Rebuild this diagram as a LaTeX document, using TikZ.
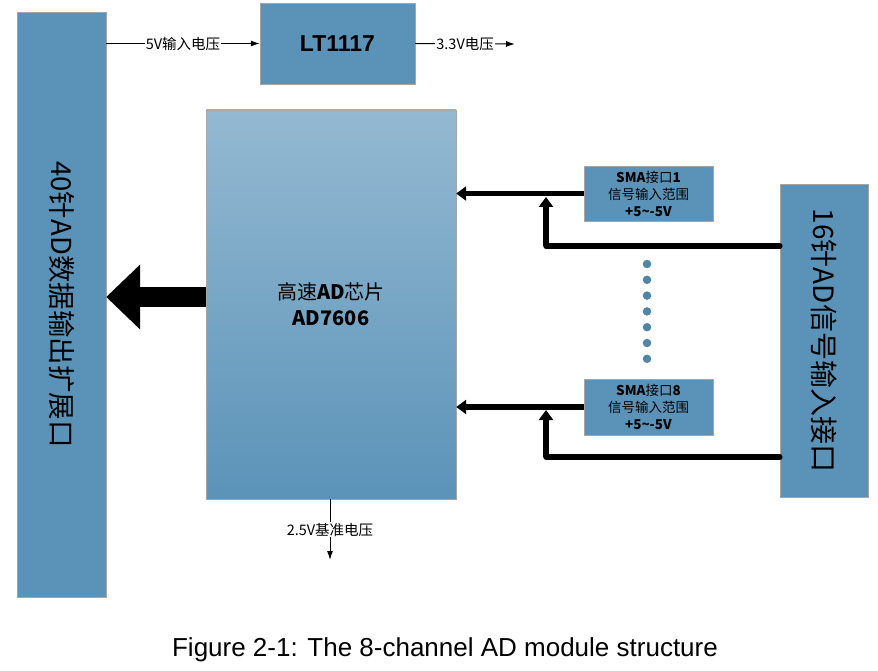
\documentclass[tikz,border=0pt]{standalone}
\usepackage{fontspec}
\setmainfont{Liberation Sans}
\newfontfamily\cjk{Noto Sans CJK SC}
\usetikzlibrary{arrows.meta}
\definecolor{blk}{HTML}{5B93B8}
\definecolor{blktop}{HTML}{94B9D2}
\tikzset{
  blockbox/.style={draw=gray!70, fill=blk},
  chipbox/.style={draw=gray!70, top color=blktop, bottom color=blk},
  thin arrow/.style={-{Latex[length=9pt,width=6pt]}, line width=1pt},
  thick line/.style={line width=5.5pt, line cap=round},
  thick arrow/.style={line width=5.5pt, -{Triangle[length=10pt,width=14pt]}},
  lbl/.style={fill=white, inner sep=1pt, font=\cjk\fontsize{14.5}{17}\selectfont},
  dot/.style={circle, fill=blk!90!black, inner sep=0pt, minimum size=8.5pt}
}
\begin{document}
\begin{tikzpicture}[x=1pt,y=-1pt]
\useasboundingbox (0,0) rectangle (878,671);
% blocks
\node[blockbox, minimum width=89pt, minimum height=585pt] (ext) at (61.5,304.5) {};
\node[rotate=-90, font=\cjk\fontsize{27.5}{30}\selectfont] at (ext.center) {40针AD数据输出扩展口};
\node[blockbox, minimum width=155pt, minimum height=81pt, font=\bfseries\fontsize{23}{26}\selectfont] (lt) at (337.5,43.5) {LT1117};
\node[chipbox, minimum width=250pt, minimum height=389pt, align=center, font=\cjk\fontsize{20}{26}\selectfont] (ad) at (331,304.5) {高速\textbf{AD}芯片\\ \textbf{AD7606}};
\node[blockbox, minimum width=129pt, minimum height=55pt, align=center, font=\cjk\fontsize{13.5}{17}\selectfont] (sma1) at (648.5,193.5) {\textbf{SMA}接口\textbf{1}\\ 信号输入范围\\ \textbf{+5\textasciitilde-5V}};
\node[blockbox, minimum width=129pt, minimum height=56pt, align=center, font=\cjk\fontsize{13.5}{17}\selectfont] (sma8) at (648.5,407) {\textbf{SMA}接口\textbf{8}\\ 信号输入范围\\ \textbf{+5\textasciitilde-5V}};
\node[blockbox, minimum width=88pt, minimum height=313pt] (in) at (824,340.5) {};
\node[rotate=-90, font=\cjk\fontsize{28}{30}\selectfont] at (in.center) {16针AD信号输入接口};
% power lines
\coordinate (o33) at (515,44);
\coordinate (o25) at (330,560);
\draw[thin arrow] (ext.east |- lt.west) -- node[lbl]{5V输入电压} (lt.west);
\draw[thin arrow] (lt.east) -- node[lbl]{3.3V电压} (o33);
\draw[thin arrow] (ad.south -| o25) -- node[lbl, pos=0.5]{2.5V基准电压} (o25);
% data out
\draw[line width=20pt, -{Triangle[length=34pt,width=63pt]}] (ad.west |- 0,297) -- (ext.east |- 0,297);
% signal inputs
\coordinate (j1) at (546,246);
\coordinate (j8) at (546,457);
\draw[thick arrow] (sma1.west) -- (ad.east |- sma1.west);
\draw[thick arrow] (sma8.west) -- (ad.east |- sma8.west);
\draw[thick line] (in.west |- j1) -- (j1);
\draw[thick line] (in.west |- j8) -- (j8);
\draw[thick arrow] (j1) -- (546,197);
\draw[thick arrow] (j8) -- (546,410);
% dots
\foreach \i in {0,...,6} \node[dot] (d\i) at (647,264+15.8*\i) {};
% caption
\node[font=\fontsize{26}{30}\selectfont] (cap) at (445,650) {Figure 2-1: The 8-channel AD module structure};
\end{tikzpicture}
\end{document}
